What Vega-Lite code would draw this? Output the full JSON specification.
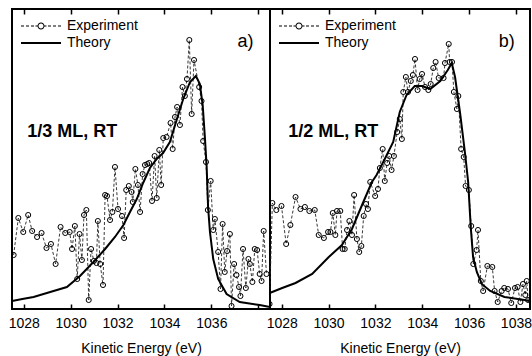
{
  "$schema": "https://vega.github.io/schema/vega-lite/v6.json",
  "padding": {"left": 7, "top": 7, "right": 0, "bottom": 0},
  "bounds": "flush",
  "spacing": 0,
  "config": {
    "view": {"stroke": "#000", "strokeWidth": 2},
    "font": "Liberation Sans",
    "concat": {"spacing": 0}
  },
  "datasets": {
    "a": [
      {"s":"Experiment","e":1027.57,"i":0.54},{"s":"Experiment","e":1027.77,"i":0.91},{"s":"Experiment","e":1027.98,"i":0.77},{"s":"Experiment","e":1028.19,"i":0.94},{"s":"Experiment","e":1028.36,"i":0.78},{"s":"Experiment","e":1028.57,"i":0.72},{"s":"Experiment","e":1028.76,"i":0.76},{"s":"Experiment","e":1028.97,"i":0.61},{"s":"Experiment","e":1029.16,"i":0.65},{"s":"Experiment","e":1029.36,"i":0.45},{"s":"Experiment","e":1029.57,"i":0.82},{"s":"Experiment","e":1029.77,"i":0.76},{"s":"Experiment","e":1029.96,"i":0.77},{"s":"Experiment","e":1030.06,"i":0.60},{"s":"Experiment","e":1030.18,"i":0.83},{"s":"Experiment","e":1030.28,"i":0.30},{"s":"Experiment","e":1030.38,"i":0.75},{"s":"Experiment","e":1030.48,"i":0.49},{"s":"Experiment","e":1030.57,"i":0.94},{"s":"Experiment","e":1030.67,"i":0.99},{"s":"Experiment","e":1030.77,"i":0.09},{"s":"Experiment","e":1030.87,"i":0.60},{"s":"Experiment","e":1030.99,"i":0.48},{"s":"Experiment","e":1031.10,"i":0.46},{"s":"Experiment","e":1031.16,"i":0.88},{"s":"Experiment","e":1031.26,"i":0.45},{"s":"Experiment","e":1031.38,"i":0.24},{"s":"Experiment","e":1031.47,"i":1.14},{"s":"Experiment","e":1031.55,"i":1.13},{"s":"Experiment","e":1031.68,"i":0.89},{"s":"Experiment","e":1031.78,"i":0.97},{"s":"Experiment","e":1031.89,"i":1.42},{"s":"Experiment","e":1032.02,"i":1.00},{"s":"Experiment","e":1032.19,"i":0.93},{"s":"Experiment","e":1032.28,"i":0.71},{"s":"Experiment","e":1032.37,"i":1.19},{"s":"Experiment","e":1032.48,"i":1.23},{"s":"Experiment","e":1032.60,"i":1.17},{"s":"Experiment","e":1032.65,"i":1.07},{"s":"Experiment","e":1032.76,"i":1.40},{"s":"Experiment","e":1032.87,"i":1.24},{"s":"Experiment","e":1032.96,"i":0.97},{"s":"Experiment","e":1033.07,"i":1.35},{"s":"Experiment","e":1033.17,"i":1.44},{"s":"Experiment","e":1033.27,"i":1.45},{"s":"Experiment","e":1033.35,"i":1.46},{"s":"Experiment","e":1033.47,"i":1.08},{"s":"Experiment","e":1033.58,"i":1.53},{"s":"Experiment","e":1033.67,"i":1.11},{"s":"Experiment","e":1033.78,"i":1.59},{"s":"Experiment","e":1033.86,"i":1.24},{"s":"Experiment","e":1033.95,"i":1.71},{"s":"Experiment","e":1034.09,"i":1.72},{"s":"Experiment","e":1034.26,"i":1.86},{"s":"Experiment","e":1034.35,"i":1.60},{"s":"Experiment","e":1034.45,"i":1.92},{"s":"Experiment","e":1034.54,"i":2.02},{"s":"Experiment","e":1034.66,"i":1.84},{"s":"Experiment","e":1034.77,"i":2.22},{"s":"Experiment","e":1034.87,"i":2.13},{"s":"Experiment","e":1034.96,"i":2.30},{"s":"Experiment","e":1035.06,"i":2.69},{"s":"Experiment","e":1035.16,"i":1.95},{"s":"Experiment","e":1035.26,"i":2.49},{"s":"Experiment","e":1035.48,"i":2.22},{"s":"Experiment","e":1035.58,"i":2.08},{"s":"Experiment","e":1035.65,"i":1.68},{"s":"Experiment","e":1035.77,"i":1.47},{"s":"Experiment","e":1035.85,"i":0.99},{"s":"Experiment","e":1035.97,"i":1.28},{"s":"Experiment","e":1036.08,"i":0.79},{"s":"Experiment","e":1036.15,"i":0.90},{"s":"Experiment","e":1036.29,"i":0.57},{"s":"Experiment","e":1036.39,"i":0.20},{"s":"Experiment","e":1036.48,"i":0.85},{"s":"Experiment","e":1036.57,"i":0.37},{"s":"Experiment","e":1036.67,"i":0.58},{"s":"Experiment","e":1036.79,"i":0.75},{"s":"Experiment","e":1036.86,"i":0.03},{"s":"Experiment","e":1036.97,"i":0.45},{"s":"Experiment","e":1037.07,"i":0.34},{"s":"Experiment","e":1037.18,"i":0.22},{"s":"Experiment","e":1037.24,"i":0.13},{"s":"Experiment","e":1037.35,"i":0.60},{"s":"Experiment","e":1037.47,"i":0.21},{"s":"Experiment","e":1037.58,"i":0.50},{"s":"Experiment","e":1037.64,"i":0.45},{"s":"Experiment","e":1037.75,"i":0.27},{"s":"Experiment","e":1037.85,"i":0.60},{"s":"Experiment","e":1037.95,"i":0.59},{"s":"Experiment","e":1038.06,"i":0.35},{"s":"Experiment","e":1038.14,"i":0.28},{"s":"Experiment","e":1038.23,"i":0.78},{"s":"Experiment","e":1038.35,"i":0.35},
      {"s":"Theory","e":1027.50,"i":0.08},{"s":"Theory","e":1027.94,"i":0.10},{"s":"Theory","e":1028.42,"i":0.12},{"s":"Theory","e":1029.13,"i":0.17},{"s":"Theory","e":1029.84,"i":0.22},{"s":"Theory","e":1030.40,"i":0.33},{"s":"Theory","e":1030.97,"i":0.47},{"s":"Theory","e":1031.47,"i":0.60},{"s":"Theory","e":1031.89,"i":0.72},{"s":"Theory","e":1032.25,"i":0.84},{"s":"Theory","e":1032.53,"i":0.97},{"s":"Theory","e":1032.82,"i":1.10},{"s":"Theory","e":1033.09,"i":1.26},{"s":"Theory","e":1033.38,"i":1.41},{"s":"Theory","e":1033.67,"i":1.50},{"s":"Theory","e":1033.94,"i":1.56},{"s":"Theory","e":1034.23,"i":1.67},{"s":"Theory","e":1034.52,"i":1.89},{"s":"Theory","e":1034.80,"i":2.10},{"s":"Theory","e":1035.09,"i":2.27},{"s":"Theory","e":1035.34,"i":2.33},{"s":"Theory","e":1035.51,"i":2.25},{"s":"Theory","e":1035.63,"i":2.04},{"s":"Theory","e":1035.72,"i":1.73},{"s":"Theory","e":1035.80,"i":1.42},{"s":"Theory","e":1035.86,"i":1.02},{"s":"Theory","e":1035.94,"i":0.77},{"s":"Theory","e":1036.08,"i":0.50},{"s":"Theory","e":1036.29,"i":0.30},{"s":"Theory","e":1036.65,"i":0.15},{"s":"Theory","e":1037.21,"i":0.07},{"s":"Theory","e":1038.06,"i":0.04},{"s":"Theory","e":1038.50,"i":0.02}
    ],
    "b": [
      {"s":"Experiment","e":1027.48,"i":0.05},{"s":"Experiment","e":1027.60,"i":1.06},{"s":"Experiment","e":1027.77,"i":0.99},{"s":"Experiment","e":1027.99,"i":1.03},{"s":"Experiment","e":1028.19,"i":0.65},{"s":"Experiment","e":1028.37,"i":0.84},{"s":"Experiment","e":1028.59,"i":1.12},{"s":"Experiment","e":1028.80,"i":1.00},{"s":"Experiment","e":1028.99,"i":1.02},{"s":"Experiment","e":1029.18,"i":0.98},{"s":"Experiment","e":1029.41,"i":0.99},{"s":"Experiment","e":1029.58,"i":0.74},{"s":"Experiment","e":1029.80,"i":0.71},{"s":"Experiment","e":1029.98,"i":0.77},{"s":"Experiment","e":1030.08,"i":0.77},{"s":"Experiment","e":1030.18,"i":0.96},{"s":"Experiment","e":1030.29,"i":0.74},{"s":"Experiment","e":1030.36,"i":0.98},{"s":"Experiment","e":1030.50,"i":0.98},{"s":"Experiment","e":1030.60,"i":0.60},{"s":"Experiment","e":1030.69,"i":0.60},{"s":"Experiment","e":1030.79,"i":0.79},{"s":"Experiment","e":1030.89,"i":0.88},{"s":"Experiment","e":1031.00,"i":0.74},{"s":"Experiment","e":1031.09,"i":1.14},{"s":"Experiment","e":1031.21,"i":0.70},{"s":"Experiment","e":1031.31,"i":0.57},{"s":"Experiment","e":1031.40,"i":0.63},{"s":"Experiment","e":1031.50,"i":0.93},{"s":"Experiment","e":1031.60,"i":1.05},{"s":"Experiment","e":1031.68,"i":1.00},{"s":"Experiment","e":1031.78,"i":1.27},{"s":"Experiment","e":1031.99,"i":1.13},{"s":"Experiment","e":1032.11,"i":1.20},{"s":"Experiment","e":1032.19,"i":1.41},{"s":"Experiment","e":1032.31,"i":1.60},{"s":"Experiment","e":1032.40,"i":1.28},{"s":"Experiment","e":1032.50,"i":1.46},{"s":"Experiment","e":1032.59,"i":1.53},{"s":"Experiment","e":1032.69,"i":1.39},{"s":"Experiment","e":1032.79,"i":1.53},{"s":"Experiment","e":1032.93,"i":1.77},{"s":"Experiment","e":1033.04,"i":1.90},{"s":"Experiment","e":1033.13,"i":1.70},{"s":"Experiment","e":1033.19,"i":2.17},{"s":"Experiment","e":1033.30,"i":2.32},{"s":"Experiment","e":1033.39,"i":2.17},{"s":"Experiment","e":1033.51,"i":2.28},{"s":"Experiment","e":1033.60,"i":2.34},{"s":"Experiment","e":1033.69,"i":2.50},{"s":"Experiment","e":1033.80,"i":2.19},{"s":"Experiment","e":1033.89,"i":2.30},{"s":"Experiment","e":1033.99,"i":2.35},{"s":"Experiment","e":1034.12,"i":2.22},{"s":"Experiment","e":1034.26,"i":2.19},{"s":"Experiment","e":1034.36,"i":2.25},{"s":"Experiment","e":1034.47,"i":2.41},{"s":"Experiment","e":1034.57,"i":2.47},{"s":"Experiment","e":1034.70,"i":2.31},{"s":"Experiment","e":1034.91,"i":2.31},{"s":"Experiment","e":1034.97,"i":2.46},{"s":"Experiment","e":1035.13,"i":2.65},{"s":"Experiment","e":1035.17,"i":2.47},{"s":"Experiment","e":1035.27,"i":2.47},{"s":"Experiment","e":1035.35,"i":2.17},{"s":"Experiment","e":1035.48,"i":2.00},{"s":"Experiment","e":1035.54,"i":2.13},{"s":"Experiment","e":1035.66,"i":1.60},{"s":"Experiment","e":1035.77,"i":1.52},{"s":"Experiment","e":1035.85,"i":1.23},{"s":"Experiment","e":1035.99,"i":1.19},{"s":"Experiment","e":1036.09,"i":0.83},{"s":"Experiment","e":1036.18,"i":0.45},{"s":"Experiment","e":1036.32,"i":0.59},{"s":"Experiment","e":1036.38,"i":0.79},{"s":"Experiment","e":1036.50,"i":0.28},{"s":"Experiment","e":1036.60,"i":0.18},{"s":"Experiment","e":1036.78,"i":0.43},{"s":"Experiment","e":1036.99,"i":0.42},{"s":"Experiment","e":1037.09,"i":0.18},{"s":"Experiment","e":1037.22,"i":0.07},{"s":"Experiment","e":1037.39,"i":0.18},{"s":"Experiment","e":1037.50,"i":0.21},{"s":"Experiment","e":1037.66,"i":0.20},{"s":"Experiment","e":1037.80,"i":0.06},{"s":"Experiment","e":1037.96,"i":0.21},{"s":"Experiment","e":1038.07,"i":0.22},{"s":"Experiment","e":1038.19,"i":0.07},{"s":"Experiment","e":1038.30,"i":0.25},{"s":"Experiment","e":1038.40,"i":0.14},{"s":"Experiment","e":1038.46,"i":0.28},{"s":"Experiment","e":1038.52,"i":0.09},
      {"s":"Theory","e":1027.48,"i":0.16},{"s":"Theory","e":1028.02,"i":0.21},{"s":"Theory","e":1028.59,"i":0.26},{"s":"Theory","e":1029.30,"i":0.35},{"s":"Theory","e":1030.01,"i":0.52},{"s":"Theory","e":1030.57,"i":0.64},{"s":"Theory","e":1031.00,"i":0.80},{"s":"Theory","e":1031.43,"i":1.04},{"s":"Theory","e":1031.85,"i":1.27},{"s":"Theory","e":1032.05,"i":1.34},{"s":"Theory","e":1032.40,"i":1.50},{"s":"Theory","e":1032.76,"i":1.67},{"s":"Theory","e":1033.04,"i":1.97},{"s":"Theory","e":1033.33,"i":2.14},{"s":"Theory","e":1033.68,"i":2.23},{"s":"Theory","e":1033.99,"i":2.23},{"s":"Theory","e":1034.34,"i":2.20},{"s":"Theory","e":1034.77,"i":2.28},{"s":"Theory","e":1035.09,"i":2.39},{"s":"Theory","e":1035.26,"i":2.46},{"s":"Theory","e":1035.40,"i":2.32},{"s":"Theory","e":1035.62,"i":1.95},{"s":"Theory","e":1035.83,"i":1.55},{"s":"Theory","e":1035.96,"i":1.27},{"s":"Theory","e":1036.07,"i":0.82},{"s":"Theory","e":1036.17,"i":0.52},{"s":"Theory","e":1036.33,"i":0.37},{"s":"Theory","e":1036.54,"i":0.25},{"s":"Theory","e":1036.90,"i":0.18},{"s":"Theory","e":1037.51,"i":0.12},{"s":"Theory","e":1038.36,"i":0.09},{"s":"Theory","e":1038.56,"i":0.08}
    ]
  },
  "resolve": {"scale": {"shape": "independent", "x": "independent", "y": "independent"}, "legend": {"shape": "independent"}},
  "hconcat": [
    {
      "width": 258,
      "height": 300,
      "data": {"name": "a"},
      "resolve": {"axis": {"x": "independent"}},
      "layer": [
        {
          "transform": [{"filter": "datum.s === 'Experiment'"}],
          "mark": {"type": "line", "stroke": "#222", "strokeWidth": 0.9, "strokeDash": [3, 2], "clip": true},
          "encoding": {
            "x": {"field": "e", "type": "quantitative", "scale": {"domain": [1027.5, 1038.5], "nice": false, "zero": false},
              "axis": {"orient": "bottom", "values": [1028,1030,1032,1034,1036,1038], "format": "d", "labelExpr": "datum.value == 1038 ? '' : datum.label", "title": "Kinetic Energy (eV)", "grid": false, "domain": false, "tickSize": -5, "tickColor": "#000", "tickWidth": 1.5, "labelFontSize": 14, "labelColor": "#000", "labelPadding": 12, "titleFontSize": 14, "titleFontWeight": "normal", "titleColor": "#000", "titlePadding": 11, "labelFlush": false}},
            "y": {"field": "i", "type": "quantitative", "scale": {"domain": [0, 3], "nice": false, "zero": false}, "axis": null}
          }
        },
        {
          "mark": {"type": "point", "filled": true, "color": "#000", "opacity": 0, "size": 100, "clip": true},
          "encoding": {
            "x": {"field": "e", "type": "quantitative", "axis": null},
            "y": {"field": "i", "type": "quantitative"},
            "shape": {"field": "s", "type": "nominal",
              "scale": {"domain": ["Experiment", "Theory"], "range": [
                "M-4,-0.1H-3.4V0.1H-4ZM-3,-0.1H-2.4V0.1H-3ZM-2,-0.1H-1.4V0.1H-2ZM-1.1,-0.1H-0.6V0.1H-1.1ZM0.6,-0.1H1.1V0.1H0.6ZM1.4,-0.1H2V0.1H1.4ZM2.4,-0.1H3V0.1H2.4ZM3.4,-0.1H4V0.1H3.4ZM-0.7,0A0.7,0.7 0 1,1 0.7,0A0.7,0.7 0 1,1 -0.7,0ZM-0.5,0A0.5,0.5 0 1,0 0.5,0A0.5,0.5 0 1,0 -0.5,0Z",
                "M-4,-0.2H4V0.2H-4Z"]},
              "legend": {"orient": "none", "legendX": 22, "legendY": 10, "title": null, "labelFontSize": 14, "labelFont": "Liberation Sans", "labelColor": "#000", "symbolSize": 100, "symbolOpacity": 1, "symbolFillColor": "#000", "symbolStrokeWidth": 0, "rowPadding": 3, "labelOffset": 19, "padding": 0}}
          }
        },
        {
          "transform": [{"filter": "datum.s === 'Experiment'"}],
          "mark": {"type": "point", "shape": "circle", "filled": false, "stroke": "#000", "strokeWidth": 1, "size": 26, "opacity": 1, "clip": true},
          "encoding": {
            "x": {"field": "e", "type": "quantitative", "axis": null},
            "y": {"field": "i", "type": "quantitative"}
          }
        },
        {
          "transform": [{"filter": "datum.s === 'Theory'"}],
          "mark": {"type": "line", "stroke": "#000", "strokeWidth": 2, "clip": true},
          "encoding": {
            "x": {"field": "e", "type": "quantitative", "axis": {"orient": "top", "values": [1028,1030,1032,1034,1036,1038], "labels": false, "title": null, "grid": false, "domain": false, "tickSize": -5, "tickColor": "#000", "tickWidth": 1.5}},
            "y": {"field": "i", "type": "quantitative"}
          }
        },
        {
          "data": {"values": [{"label": "1/3 ML, RT"}]},
          "mark": {"type": "text", "align": "left", "baseline": "middle", "fontSize": 18, "fontWeight": "bold", "color": "#000"},
          "encoding": {"x": {"datum": 1028.15, "axis": null}, "y": {"datum": 1.77}, "text": {"field": "label"}}
        },
        {
          "data": {"values": [{"label": "a)"}]},
          "mark": {"type": "text", "align": "right", "baseline": "middle", "fontSize": 18, "color": "#000"},
          "encoding": {"x": {"datum": 1037.8, "axis": null}, "y": {"datum": 2.67}, "text": {"field": "label"}}
        }
      ]
    },
    {
      "width": 260,
      "height": 300,
      "data": {"name": "b"},
      "resolve": {"axis": {"x": "independent"}},
      "layer": [
        {
          "transform": [{"filter": "datum.s === 'Experiment'"}],
          "mark": {"type": "line", "stroke": "#222", "strokeWidth": 0.9, "strokeDash": [3, 2], "clip": true},
          "encoding": {
            "x": {"field": "e", "type": "quantitative", "scale": {"domain": [1027.5, 1038.6], "nice": false, "zero": false},
              "axis": {"orient": "bottom", "values": [1028,1030,1032,1034,1036,1038], "format": "d", "title": "Kinetic Energy (eV)", "grid": false, "domain": false, "tickSize": -5, "tickColor": "#000", "tickWidth": 1.5, "labelFontSize": 14, "labelColor": "#000", "labelPadding": 12, "titleFontSize": 14, "titleFontWeight": "normal", "titleColor": "#000", "titlePadding": 11, "labelFlush": false}},
            "y": {"field": "i", "type": "quantitative", "scale": {"domain": [0, 3], "nice": false, "zero": false}, "axis": null}
          }
        },
        {
          "mark": {"type": "point", "filled": true, "color": "#000", "opacity": 0, "size": 100, "clip": true},
          "encoding": {
            "x": {"field": "e", "type": "quantitative", "axis": null},
            "y": {"field": "i", "type": "quantitative"},
            "shape": {"field": "s", "type": "nominal",
              "scale": {"domain": ["Experiment", "Theory"], "range": [
                "M-4,-0.1H-3.4V0.1H-4ZM-3,-0.1H-2.4V0.1H-3ZM-2,-0.1H-1.4V0.1H-2ZM-1.1,-0.1H-0.6V0.1H-1.1ZM0.6,-0.1H1.1V0.1H0.6ZM1.4,-0.1H2V0.1H1.4ZM2.4,-0.1H3V0.1H2.4ZM3.4,-0.1H4V0.1H3.4ZM-0.7,0A0.7,0.7 0 1,1 0.7,0A0.7,0.7 0 1,1 -0.7,0ZM-0.5,0A0.5,0.5 0 1,0 0.5,0A0.5,0.5 0 1,0 -0.5,0Z",
                "M-4,-0.2H4V0.2H-4Z"]},
              "legend": {"orient": "none", "legendX": 22, "legendY": 10, "title": null, "labelFontSize": 14, "labelFont": "Liberation Sans", "labelColor": "#000", "symbolSize": 100, "symbolOpacity": 1, "symbolFillColor": "#000", "symbolStrokeWidth": 0, "rowPadding": 3, "labelOffset": 19, "padding": 0}}
          }
        },
        {
          "transform": [{"filter": "datum.s === 'Experiment'"}],
          "mark": {"type": "point", "shape": "circle", "filled": false, "stroke": "#000", "strokeWidth": 1, "size": 26, "opacity": 1, "clip": true},
          "encoding": {
            "x": {"field": "e", "type": "quantitative", "axis": null},
            "y": {"field": "i", "type": "quantitative"}
          }
        },
        {
          "transform": [{"filter": "datum.s === 'Theory'"}],
          "mark": {"type": "line", "stroke": "#000", "strokeWidth": 2, "clip": true},
          "encoding": {
            "x": {"field": "e", "type": "quantitative", "axis": {"orient": "top", "values": [1028,1030,1032,1034,1036,1038], "labels": false, "title": null, "grid": false, "domain": false, "tickSize": -5, "tickColor": "#000", "tickWidth": 1.5}},
            "y": {"field": "i", "type": "quantitative"}
          }
        },
        {
          "data": {"values": [{"label": "1/2 ML, RT"}]},
          "mark": {"type": "text", "align": "left", "baseline": "middle", "fontSize": 18, "fontWeight": "bold", "color": "#000"},
          "encoding": {"x": {"datum": 1028.28, "axis": null}, "y": {"datum": 1.77}, "text": {"field": "label"}}
        },
        {
          "data": {"values": [{"label": "b)"}]},
          "mark": {"type": "text", "align": "right", "baseline": "middle", "fontSize": 18, "color": "#000"},
          "encoding": {"x": {"datum": 1037.95, "axis": null}, "y": {"datum": 2.67}, "text": {"field": "label"}}
        }
      ]
    }
  ]
}
